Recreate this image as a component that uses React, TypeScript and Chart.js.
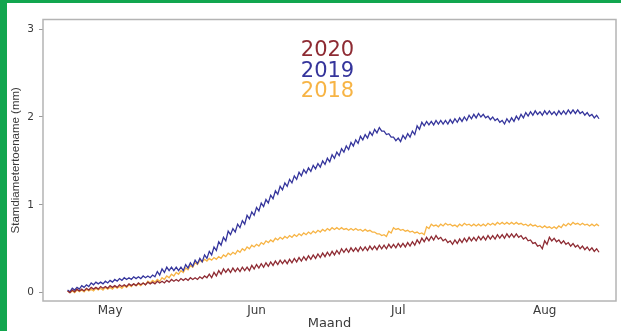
import React, { useEffect, useRef } from "react";
import { Chart, registerables } from "chart.js";

Chart.register(...registerables);

// x positions are days counted from 1 April; samples every half day
const START_DAY = 21;
const STEP_DAYS = 0.5;

const MONTH_DAYS = [30, 61, 91, 122];
const MONTH_LABELS = ["May", "Jun", "Jul", "Aug"];
const Y_TICKS = [0, 1, 2, 3];

const SERIES_LABELS = ["2020", "2019", "2018"];
const SERIES_COLORS = ["#8e2b33", "#35359c", "#f7b445"];

// Stamdiametertoename (mm), 2020
const RED_2020 = [
  0.02,0.00, 0.03,0.01, 0.04,0.02, 0.04,0.02, 0.05,0.03, 0.06,0.04, 0.06,0.04, 0.07,0.05, 0.07,0.05, 0.08,0.06,
  0.08,0.06, 0.09,0.07, 0.09,0.07, 0.10,0.08, 0.10,0.08, 0.11,0.09, 0.11,0.09, 0.12,0.10, 0.12,0.10, 0.13,0.11,
  0.13,0.11, 0.14,0.12, 0.15,0.13, 0.15,0.13, 0.16,0.14, 0.16,0.14, 0.17,0.15, 0.17,0.15, 0.18,0.16, 0.19,0.17,
  0.21,0.17, 0.23,0.19, 0.25,0.21, 0.27,0.23, 0.27,0.23, 0.28,0.24, 0.28,0.24, 0.29,0.25, 0.29,0.25, 0.31,0.27,
  0.32,0.28, 0.33,0.29, 0.34,0.30, 0.35,0.31, 0.36,0.32, 0.37,0.33, 0.37,0.33, 0.38,0.34, 0.39,0.35, 0.40,0.36,
  0.41,0.37, 0.42,0.38, 0.43,0.39, 0.44,0.40, 0.45,0.41, 0.46,0.42, 0.47,0.43, 0.48,0.44, 0.50,0.46, 0.50,0.46,
  0.51,0.47, 0.51,0.47, 0.52,0.48, 0.52,0.48, 0.53,0.49, 0.53,0.49, 0.54,0.50, 0.54,0.50, 0.55,0.51, 0.55,0.51,
  0.56,0.52, 0.56,0.52, 0.57,0.53, 0.58,0.54, 0.60,0.56, 0.62,0.58, 0.63,0.59, 0.64,0.60, 0.65,0.61, 0.63,0.59,
  0.61,0.57, 0.59,0.55, 0.60,0.56, 0.61,0.57, 0.62,0.58, 0.63,0.59, 0.63,0.59, 0.64,0.60, 0.64,0.60, 0.65,0.61,
  0.65,0.61, 0.66,0.62, 0.66,0.62, 0.67,0.63, 0.67,0.63, 0.67,0.63, 0.65,0.61, 0.63,0.59, 0.60,0.56, 0.57,0.53,
  0.54,0.50, 0.59,0.55, 0.63,0.59, 0.62,0.58, 0.60,0.56, 0.59,0.55, 0.57,0.53, 0.56,0.52, 0.54,0.50, 0.53,0.49,
  0.52,0.48, 0.51,0.47, 0.50,0.46,
];

// Stamdiametertoename (mm), 2019
const BLUE_2019 = [
  0.03,0.01, 0.05,0.03, 0.06,0.04, 0.08,0.06, 0.09,0.07, 0.11,0.09, 0.12,0.10, 0.12,0.10, 0.13,0.11, 0.14,0.12,
  0.15,0.13, 0.16,0.14, 0.17,0.15, 0.17,0.15, 0.18,0.16, 0.18,0.16, 0.19,0.17, 0.19,0.17, 0.20,0.18, 0.24,0.20,
  0.27,0.23, 0.29,0.25, 0.29,0.25, 0.29,0.25, 0.29,0.25, 0.32,0.28, 0.34,0.30, 0.37,0.33, 0.39,0.35, 0.43,0.39,
  0.47,0.43, 0.52,0.48, 0.58,0.54, 0.63,0.59, 0.70,0.66, 0.73,0.69, 0.78,0.74, 0.82,0.78, 0.88,0.84, 0.92,0.88,
  0.97,0.93, 1.02,0.98, 1.06,1.02, 1.11,1.07, 1.16,1.12, 1.21,1.17, 1.25,1.21, 1.29,1.25, 1.33,1.29, 1.37,1.33,
  1.40,1.36, 1.42,1.38, 1.45,1.41, 1.47,1.43, 1.50,1.46, 1.53,1.49, 1.57,1.53, 1.60,1.56, 1.64,1.60, 1.67,1.63,
  1.71,1.67, 1.74,1.70, 1.78,1.74, 1.80,1.76, 1.83,1.79, 1.86,1.82, 1.88,1.84, 1.84,1.80, 1.81,1.77, 1.77,1.73,
  1.76,1.72, 1.79,1.75, 1.81,1.77, 1.84,1.80, 1.90,1.86, 1.94,1.90, 1.95,1.91, 1.95,1.91, 1.96,1.92, 1.96,1.92,
  1.96,1.92, 1.97,1.93, 1.98,1.94, 1.99,1.95, 2.00,1.96, 2.02,1.98, 2.03,1.99, 2.04,2.00, 2.03,1.99, 2.01,1.97,
  2.00,1.96, 1.98,1.94, 1.96,1.92, 1.98,1.94, 1.99,1.95, 2.01,1.97, 2.03,1.99, 2.05,2.01, 2.06,2.02, 2.07,2.03,
  2.06,2.02, 2.07,2.03, 2.07,2.03, 2.06,2.02, 2.07,2.03, 2.07,2.03, 2.08,2.04, 2.08,2.04, 2.08,2.04, 2.06,2.02,
  2.05,2.01, 2.03,1.99, 2.02,1.98,
];

// Stamdiametertoename (mm), 2018
const ORANGE_2018 = [
  0.02,0.00, 0.02,0.00, 0.03,0.01, 0.03,0.01, 0.04,0.02, 0.04,0.02, 0.05,0.03, 0.05,0.03, 0.06,0.04, 0.06,0.04,
  0.07,0.05, 0.07,0.05, 0.08,0.06, 0.09,0.07, 0.10,0.08, 0.10,0.08, 0.11,0.09, 0.13,0.11, 0.14,0.12, 0.15,0.13,
  0.17,0.15, 0.19,0.17, 0.21,0.19, 0.23,0.21, 0.25,0.23, 0.28,0.26, 0.31,0.29, 0.34,0.32, 0.37,0.35, 0.38,0.36,
  0.39,0.37, 0.40,0.38, 0.41,0.39, 0.43,0.41, 0.45,0.43, 0.46,0.44, 0.48,0.46, 0.50,0.48, 0.52,0.50, 0.54,0.52,
  0.55,0.53, 0.57,0.55, 0.59,0.57, 0.60,0.58, 0.62,0.60, 0.63,0.61, 0.64,0.62, 0.65,0.63, 0.66,0.64, 0.67,0.65,
  0.68,0.66, 0.69,0.67, 0.70,0.68, 0.71,0.69, 0.72,0.70, 0.73,0.71, 0.74,0.72, 0.74,0.72, 0.74,0.72, 0.73,0.71,
  0.73,0.71, 0.73,0.71, 0.72,0.70, 0.72,0.70, 0.71,0.69, 0.69,0.67, 0.67,0.65, 0.66,0.64, 0.70,0.68, 0.74,0.72,
  0.73,0.71, 0.72,0.70, 0.71,0.69, 0.70,0.68, 0.69,0.67, 0.68,0.66, 0.75,0.73, 0.78,0.76, 0.77,0.75, 0.78,0.76,
  0.79,0.77, 0.78,0.76, 0.77,0.75, 0.78,0.76, 0.79,0.77, 0.78,0.76, 0.78,0.76, 0.78,0.76, 0.78,0.76, 0.79,0.77,
  0.79,0.77, 0.80,0.78, 0.80,0.78, 0.80,0.78, 0.80,0.78, 0.80,0.78, 0.79,0.77, 0.78,0.76, 0.78,0.76, 0.77,0.75,
  0.76,0.74, 0.76,0.74, 0.75,0.73, 0.75,0.73, 0.76,0.74, 0.78,0.76, 0.79,0.77, 0.80,0.78, 0.79,0.77, 0.79,0.77,
  0.78,0.76, 0.78,0.76, 0.78,0.76,
];

const SERIES_VALUES = [RED_2020, BLUE_2019, ORANGE_2018];

const TEXT_COLOR = "#3a3a3a";
const FRAME_COLOR = "#b4b4b4";
const GREEN = "#12a64f";

const framePlugin = {
  id: "panelFrame",
  afterDatasetsDraw(chart: any) {
    const { ctx, chartArea } = chart;
    ctx.save();
    ctx.strokeStyle = FRAME_COLOR;
    ctx.lineWidth = 1.5;
    ctx.strokeRect(
      chartArea.left,
      chartArea.top,
      chartArea.right - chartArea.left,
      chartArea.bottom - chartArea.top
    );
    ctx.restore();
  },
};

const yearLabelsPlugin = {
  id: "yearLabels",
  afterDraw(chart: any) {
    const { ctx, chartArea } = chart;
    ctx.save();
    ctx.font = '21px "DejaVu Sans"';
    ctx.textAlign = "center";
    ctx.textBaseline = "middle";
    const cx = (chartArea.left + chartArea.right) / 2 - 2;
    SERIES_LABELS.forEach((label, i) => {
      ctx.fillStyle = SERIES_COLORS[i];
      ctx.fillText(label, cx, chartArea.top + 31 + i * 20.7);
    });
    ctx.restore();
  },
};

export default function App() {
  const canvasRef = useRef<HTMLCanvasElement | null>(null);

  useEffect(() => {
    const canvas = canvasRef.current;
    if (!canvas) return;
    const datasets = SERIES_VALUES.map((values, s) => ({
      label: SERIES_LABELS[s],
      data: values.map((v, i) => ({ x: START_DAY + i * STEP_DAYS, y: v })),
      borderColor: SERIES_COLORS[s],
      backgroundColor: SERIES_COLORS[s],
      borderWidth: 1.3,
      pointRadius: 0,
      tension: 0,
      fill: false,
    }));

    const chart = new Chart(canvas, {
      type: "line",
      data: { datasets },
      options: {
        animation: false,
        responsive: false,
        maintainAspectRatio: false,
        layout: { padding: { left: 0, top: 19.5, right: 5, bottom: 0 } },
        plugins: {
          legend: { display: false },
          tooltip: { enabled: false },
        },
        scales: {
          x: {
            type: "linear",
            min: 15.8,
            max: 137.1,
            afterBuildTicks: (scale: any) => {
              scale.ticks = MONTH_DAYS.map((v) => ({ value: v }));
            },
            afterFit: (scale: any) => {
              scale.height = 30;
            },
            grid: { display: false, drawTicks: false },
            border: { display: false },
            ticks: {
              autoSkip: false,
              maxRotation: 0,
              padding: 3,
              color: TEXT_COLOR,
              font: { family: "DejaVu Sans", size: 12 },
              callback: (value: any) => {
                const idx = MONTH_DAYS.indexOf(Number(value));
                return idx >= 0 ? MONTH_LABELS[idx] : "";
              },
            },
            title: {
              display: true,
              text: "Maand",
              color: TEXT_COLOR,
              font: { family: "DejaVu Sans", size: 13 },
              padding: { top: 1.5, bottom: 0 },
            },
          },
          y: {
            type: "linear",
            min: -0.095,
            max: 3.11,
            afterBuildTicks: (scale: any) => {
              scale.ticks = Y_TICKS.map((v) => ({ value: v }));
            },
            afterFit: (scale: any) => {
              scale.width = 43;
            },
            grid: {
              drawOnChartArea: false,
              drawTicks: true,
              tickLength: 4,
              color: "#9a9a9a",
            },
            border: { display: false },
            ticks: {
              padding: 5,
              color: TEXT_COLOR,
              font: { family: "DejaVu Sans", size: 10.5 },
              callback: (value: any) => String(value),
            },
            title: {
              display: true,
              text: "Stamdiametertoename (mm)",
              color: TEXT_COLOR,
              font: { family: "Liberation Sans", size: 11.5 },
              padding: { top: 9, bottom: 0 },
            },
          },
        },
      },
      plugins: [framePlugin, yearLabelsPlugin],
    });

    return () => {
      chart.destroy();
    };
  }, []);

  return (
    <div
      style={{
        position: "fixed",
        left: 0,
        top: 0,
        width: 621,
        height: 331,
        background: "#ffffff",
        overflow: "hidden",
      }}
    >
      <canvas
        ref={canvasRef}
        width={621}
        height={331}
        style={{ position: "absolute", left: 0, top: 0, width: 621, height: 331 }}
      />
      <div style={{ position: "absolute", left: 0, top: 0, width: 7, height: 331, background: GREEN }} />
      <div style={{ position: "absolute", left: 0, top: 0, width: 621, height: 2.5, background: GREEN }} />
    </div>
  );
}
